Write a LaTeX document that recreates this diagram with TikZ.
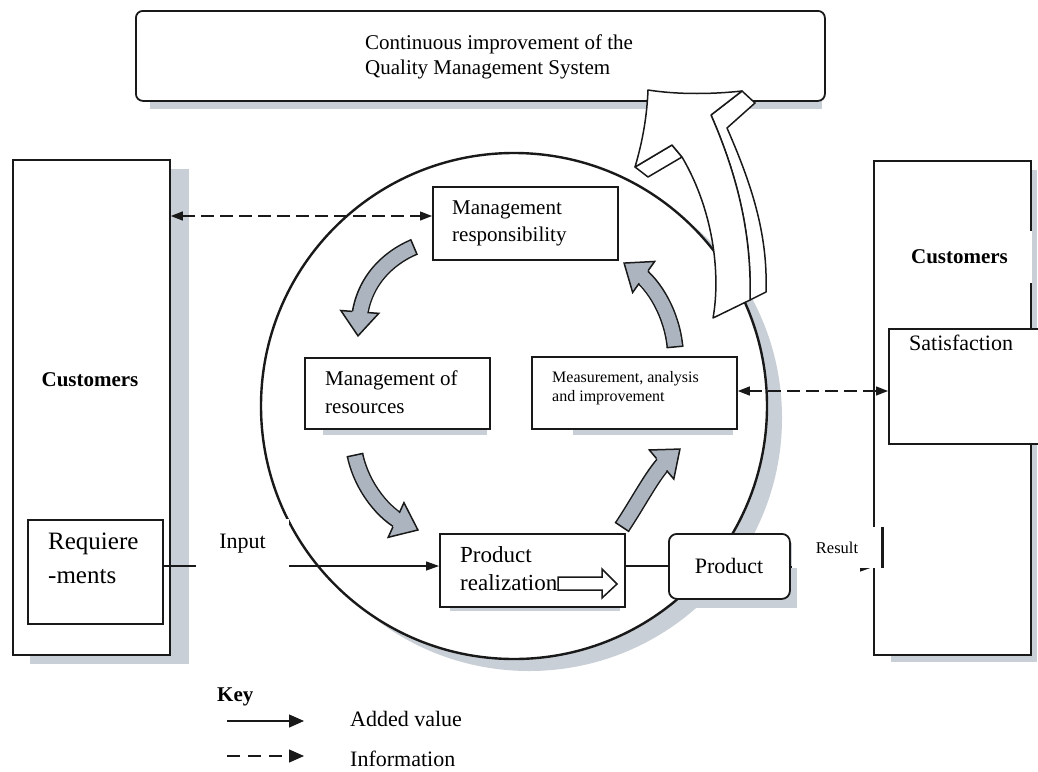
\documentclass[tikz,border=0pt]{standalone}
\usepackage{fontspec}
\setmainfont{Liberation Serif}
\usetikzlibrary{arrows.meta,decorations.markings}
\definecolor{ink}{RGB}{25,25,25}
\definecolor{shadowgray}{RGB}{200,207,214}
\definecolor{blockfill}{RGB}{172,181,191}
\newcommand\fsz[2]{\fontsize{#1}{#2}\selectfont}
\begin{document}
\begin{tikzpicture}[x=1pt,y=-1pt,
  box/.style={draw=ink,line width=1.8pt,fill=white,inner sep=0pt,anchor=north west},
  txt/.style={inner sep=0pt,anchor=west,align=left},
  patch/.style={fill=white,inner sep=0pt},
  flow/.style={draw=ink,line width=1.3pt},
  tip/.style={arrows={-Triangle[length=13pt,width=9pt]}},
  info/.style={draw=ink,line width=1.3pt,dash pattern=on 13pt off 6pt,
    arrows={Triangle[length=12pt,width=9pt]-Triangle[length=12pt,width=9pt]}},
  bigarrow/.style={draw=ink,line width=1.5pt,fill=white,line join=round},
  turn/.style={
    preaction={draw=ink,line width=17pt,shorten >=15pt},
    preaction={draw=blockfill,line width=14pt,shorten >=14pt},
    postaction={decorate},
    decoration={markings,
      mark=at position 0.001 with {\draw[ink,line width=1.5pt] (0,-8.5) -- (0,8.5);},
      mark=at position 0.999 with {\fill[blockfill] (-24,-19) -- (0,0) -- (-24,19) -- cycle;
        \draw[ink,line width=1.5pt,line join=miter] (-24,-7.75) -- (-24,-19) -- (0,0) -- (-24,19) -- (-24,7.75);}}}
]
\useasboundingbox (0,0) rectangle (1038,771);
\clip (0,0) rectangle (1038,771);
\fill[white] (0,0) rectangle (1038,771);

% soft shadows under the large shapes
\fill[shadowgray] (150,100) rectangle (822,109);
\fill[shadowgray] (30,169) rectangle (189,664);
\fill[shadowgray] (891,170) rectangle (1037,662);
\fill[shadowgray] (529,418) circle[radius=253pt];

% process loop
\node[draw=ink,line width=2.4pt,fill=white,circle,minimum size=506pt,inner sep=0pt] (loop) at (514,406) {};

% outer frames
\node[box,rounded corners=7pt,minimum width=689pt,minimum height=90pt] (cib) at (135,10) {};
\node[box,minimum width=157pt,minimum height=495pt] (lcust) at (12,159) {};
\node[box,minimum width=157pt,minimum height=494pt] (rcust) at (873,160) {};

% process boxes
\fill[shadowgray] (323,428) rectangle (487,435);
\fill[shadowgray] (573,428) rectangle (733,435);
\fill[shadowgray] (450,606) rectangle (620,611);
\fill[shadowgray] (678,543) rectangle (797,608);
\node[box,minimum width=185pt,minimum height=73pt] (mr) at (432,186) {};
\node[box,minimum width=185pt,minimum height=71pt] (res) at (304,357) {};
\node[box,minimum width=205pt,minimum height=72pt] (meas) at (531,356) {};
\node[box,minimum width=185pt,minimum height=73pt] (pr) at (439,533) {};
\node[box,rounded corners=8pt,minimum width=121pt,minimum height=65pt] (prod) at (668,533) {};
\node[box,minimum width=135pt,minimum height=104pt] (req) at (27,519) {};
\node[box,minimum width=160pt,minimum height=115pt] (sat) at (888,328) {};

% large improvement arrow rising into the top frame
\draw[bigarrow] (742,91) -- (755,103) -- (727,128) .. controls (751,183) and (768,233) .. (766,292)
  -- (750,300) .. controls (752,230) and (735,170) .. (711,115) -- cycle;
\draw[bigarrow] (635,167) -- (672,145) -- (682,157) -- (648,177) -- cycle;
\draw[bigarrow] (648,90) .. controls (680,95) and (715,94) .. (742,91) -- (711,115)
  .. controls (735,170) and (752,230) .. (750,300) -- (713,318)
  .. controls (720,280) and (716,215) .. (682,157) -- (672,145) -- (635,167)
  .. controls (643,140) and (647,115) .. (648,90) -- cycle;

% turning arrows of the cycle
\path[turn] (414,247) .. controls (388,258) and (362,282) .. (358,336);
\path[turn] (675,347) .. controls (672,315) and (655,285) .. (624,263);
\path[turn] (355,455) .. controls (362,488) and (385,515) .. (418,530);
\path[turn] (622,527) .. controls (640,500) and (655,470) .. (680,449);

% small arrow inside product realization
\draw[ink,line width=1.5pt,fill=white,line join=miter] (558,577) -- (602,577) -- (602,569) -- (617,584)
  -- (602,598) -- (602,590) -- (558,590) -- cycle;

% connectors
\draw[flow,tip] (req.east |- 0,566) -- (pr.west |- 0,566);
\draw[flow] (pr.east |- 0,566) -- (prod.west |- 0,566);
\draw[flow,tip] (prod.east |- 0,567) -- (rcust.west |- 0,567);
\draw[info] (lcust.east |- 0,216) -- (mr.west |- 0,216);
\draw[info] (meas.east |- 0,391) -- (sat.west |- 0,391);

% labels
\node[txt,font=\fsz{21}{25}] (cibt) at (365,57) {Continuous improvement of the\\Quality Management System};
\node[txt,font=\fsz{21}{27}] (mrt) at (452,223.5) {Management\\responsibility};
\node[txt,font=\fsz{21}{28}] (rest) at (325,392) {Management of\\resources};
\node[txt,font=\fsz{16}{19}] (meast) at (552,388) {Measurement, analysis\\and improvement};
\node[txt,font=\fsz{23}{28}] (prt) at (460,569) {Product\\realization};
\node[font=\fsz{22}{26},inner sep=0pt] (prodt) at (729,566) {Product};
\node[txt,font=\fsz{25}{34}] (reqt) at (48,558) {Requiere\\-ments};
\node[txt,font=\fsz{22}{26}] (satt) at (909,343) {Satisfaction};
\node[font=\fsz{21}{25}\bfseries,inner sep=0pt] (lcustt) at (90,380) {Customers};
\node[patch,font=\fsz{21}{25}\bfseries,minimum width=145pt,minimum height=52pt] (rcustt) at (959.5,257) {Customers};
\node[patch,font=\fsz{22}{26},minimum width=93pt,minimum height=49pt] (input) at (242.5,543.5) {Input};
\node[patch,font=\fsz{16.5}{20},minimum width=90pt,minimum height=41pt] (result) at (837,547.5) {Result};
\draw[ink,line width=3pt] (result.north east) -- (result.south east);

% key
\node[txt,font=\fsz{21}{25}\bfseries] (key) at (217,697) {Key};
\coordinate (k1a) at (227,721);
\coordinate (k1b) at (304,721);
\coordinate (k2a) at (227,756);
\coordinate (k2b) at (304,756);
\draw[flow,arrows={-Triangle[length=15pt,width=13pt]}] (k1a) -- (k1b);
\draw[flow,dash pattern=on 13pt off 8pt,arrows={-Triangle[length=15pt,width=13pt]}] (k2a) -- (k2b);
\node[txt,font=\fsz{22}{26}] (addv) at (350,719) {Added value};
\node[txt,font=\fsz{22}{26}] (infot) at (350,759) {Information};
\end{tikzpicture}
\end{document}
